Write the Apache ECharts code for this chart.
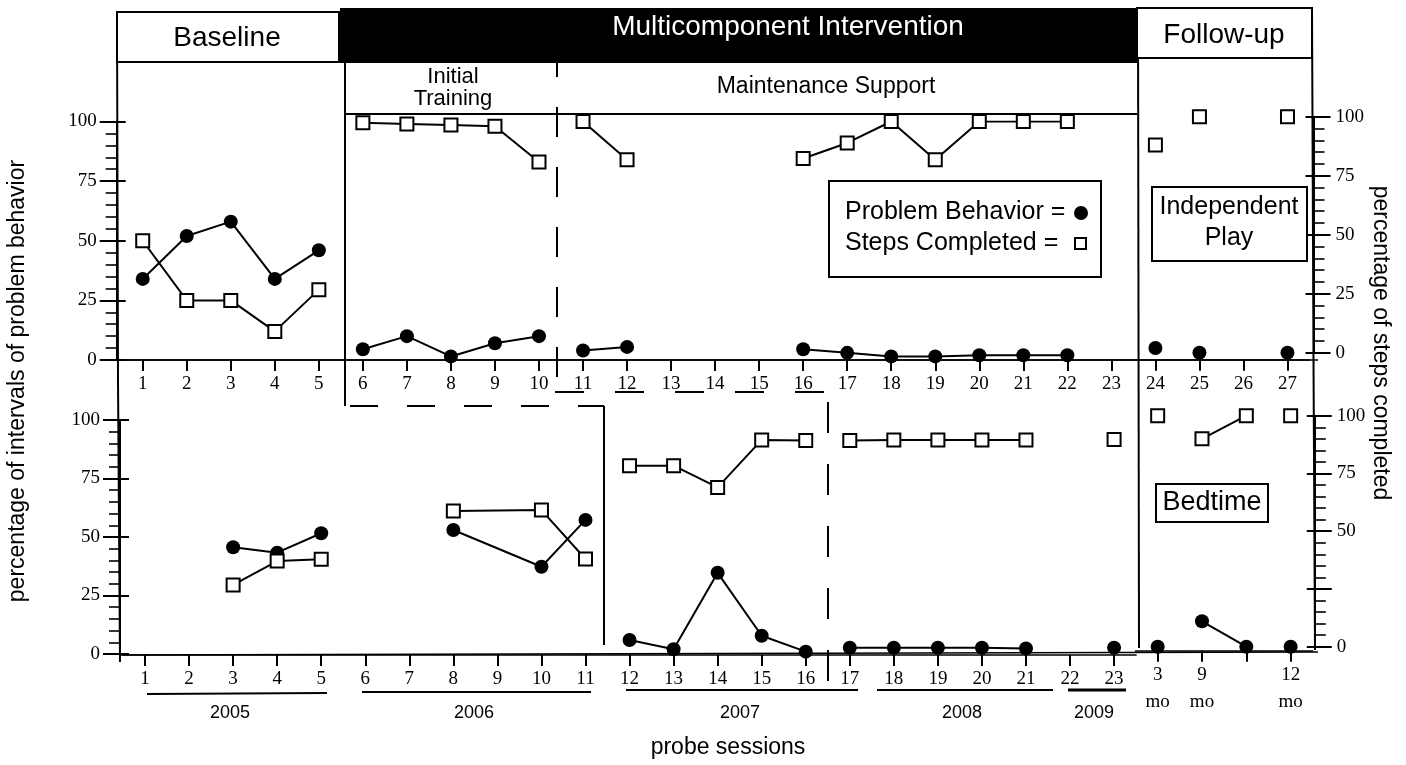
<!DOCTYPE html>
<html>
<head>
<meta charset="utf-8">
<script src="https://cdn.jsdelivr.net/npm/echarts/dist/echarts.min.js"></script>
<style>
  html, body { margin: 0; padding: 0; background: #fff; }
  #chart { width: 1406px; height: 765px; }
</style>
</head>
<body>
<div id="chart"></div>
<script>
// ---------------- DATA ----------------
const mainSessions = ['1','2','3','4','5','6','7','8','9','10','11','12','13','14','15','16','17','18','19','20','21','22','23'];
const followTopLabels = ['24','25','26','27'];
const followBottomLabels = ['3\nmo','9\nmo','','12\nmo'];

// Independent Play (top panel), sessions 1-23
const topProblem = [34, 52, 58, 34, 46, 4.5, 10, 1.5, 7, 10, 4, 5.5, null, null, null, 4.5, 3, 1.5, 1.5, 2, 2, 2, null];
const topSteps   = [50, 25, 25, 12, 29.5, 99.5, 99, 98.5, 98, 83, 100, 84, null, null, null, 84.5, 91, 100, 84, 100, 100, 100, null];
// Independent Play follow-up (24-27)
const topFollowProblem = [2, 0, null, 0];
const topFollowSteps   = [88, 100, null, 100];

// Bedtime (bottom panel), sessions 1-23
const bottomProblem = [null, null, 45.6, 43.3, 51.6, null, null, 53, null, 37.3, 57.3, 6, 2, 34.7, 7.8, 1, 2.7, 2.7, 2.7, 2.7, 2.4, null, 2.7];
const bottomSteps   = [null, null, 29.5, 39.7, 40.5, null, null, 61.1, null, 61.5, 40.6, 80.5, 80.5, 71.2, 91.5, 91.2, 91.2, 91.5, 91.5, 91.5, 91.5, null, 91.7];
// Bedtime follow-up
const bottomFollowProblem = [0, 11, 0, 0];
const bottomFollowSteps   = [100, 90, 100, 100];

// connected runs (1-based positions, inclusive)
const topSegments = [[1,5],[6,10],[11,12],[16,22]];
const bottomSegments = [[1,5],[6,11],[12,16],[17,21],[22,23]];
const followSegments = [[1,1],[2,3],[4,4]];

// ---------------- HELPERS ----------------
const SERIF = '"Liberation Serif", "DejaVu Serif", serif';
const SANS = '"Liberation Sans", Arial, sans-serif';

function segSeries(values, segments, axisIdx, kind) {
  return segments.map(([a, b]) => ({
    type: 'line',
    xAxisIndex: axisIdx[0],
    yAxisIndex: axisIdx[1],
    connectNulls: true,
    showAllSymbol: true,
    data: values.map((v, i) => (i + 1 >= a && i + 1 <= b) ? v : null),
    symbol: kind === 'pb' ? 'circle' : 'rect',
    symbolSize: kind === 'pb' ? 14 : 13,
    itemStyle: kind === 'pb'
      ? { color: '#000', borderColor: '#000', borderWidth: 0 }
      : { color: '#fff', borderColor: '#000', borderWidth: 2 },
    lineStyle: { color: '#000', width: 2 },
    z: kind === 'pb' ? 3 : 4,
    silent: true
  }));
}

function xAx(grid, data, offset) {
  return {
    gridIndex: grid, type: 'category', data: data, boundaryGap: true,
    position: 'bottom', offset: offset,
    axisLine: { show: true, onZero: false, lineStyle: { color: '#000', width: 1.5 } },
    axisTick: { show: true, alignWithLabel: true, interval: 0, length: 11, lineStyle: { color: '#000', width: 2 } },
    axisLabel: { interval: 0, margin: 11, fontFamily: SERIF, fontSize: 19, color: '#000', lineHeight: 27 },
    splitLine: { show: false }
  };
}

function yAx(grid, pos, offset, labelFmt) {
  return {
    gridIndex: grid, type: 'value', min: 0, max: 100, interval: 25, position: pos, offset: offset,
    axisLine: { show: true, lineStyle: { color: '#000', width: 2 } },
    axisTick: { show: true, length: 17, lineStyle: { color: '#000', width: 2 } },
    minorTick: { show: true, splitNumber: 5, length: 11, lineStyle: { color: '#000', width: 1.6 } },
    splitLine: { show: false }, minorSplitLine: { show: false },
    axisLabel: { margin: pos === 'left' ? 20 : 22, fontFamily: SERIF, fontSize: 19, color: '#000',
                 formatter: labelFmt || (v => String(v)) }
  };
}
function yAxInner(grid, pos, offset, len) {
  return {
    gridIndex: grid, type: 'value', min: 0, max: 100, interval: 25, position: pos, offset: offset,
    axisLine: { show: false },
    axisTick: { show: true, inside: true, length: len, lineStyle: { color: '#000', width: 2 } },
    minorTick: { show: false }, splitLine: { show: false },
    axisLabel: { show: false }
  };
}

// ---------------- ANNOTATIONS ----------------
const K = '#000';
function ln(x1, y1, x2, y2, w, dash) {
  const s = { stroke: K, lineWidth: w || 2 };
  if (dash) s.lineDash = dash;
  return { type: 'line', shape: { x1, y1, x2, y2 }, style: s, z: 1, silent: true };
}
function txt(text, x, y, size, opts) {
  opts = opts || {};
  return {
    type: 'text', x: x, y: y, rotation: opts.rot || 0, z: 10, silent: true,
    style: {
      text: text, fill: opts.fill || K,
      font: (opts.weight || 'normal') + ' ' + size + 'px ' + (opts.family || SANS),
      textAlign: opts.align || 'center', align: opts.align || 'center',
      textVerticalAlign: 'middle', verticalAlign: 'middle',
      lineHeight: opts.lh || size * 1.15
    }
  };
}
function box(x, y, w, h, fill, stroke) {
  return { type: 'rect', shape: { x, y, width: w, height: h }, z: 5, silent: true,
           style: { fill: fill, stroke: stroke || null, lineWidth: stroke ? 2 : 0 } };
}

const graphics = [
  // header row
  box(117, 12, 222, 50, '#fff', K),
  box(340, 8, 797, 55, '#000'),
  box(1137, 8, 175, 50, '#fff', K),
  txt('Baseline', 227, 38, 28),
  txt('Multicomponent Intervention', 788, 27, 28, { fill: '#fff' }),
  txt('Follow-up', 1224, 35, 28),
  // second header row
  ln(345, 114, 1137, 114, 2),
  txt('Initial\nTraining', 453, 88, 22, { lh: 22 }),
  txt('Maintenance Support', 826, 87, 23),
  // frame lines
  { type: 'polyline', shape: { points: [[117, 12], [118, 380], [120, 662]] }, style: { stroke: K, lineWidth: 2, fill: null }, z: 1, silent: true },
  ln(1138, 8, 1139, 648, 2),
  { type: 'polyline', shape: { points: [[1312, 8], [1313.5, 360], [1315, 650]] }, style: { stroke: K, lineWidth: 2, fill: null }, z: 1, silent: true },
  ln(117, 360, 1318, 360, 1.5),
  ln(120, 655, 1318, 652, 1.5),
  // phase change: baseline -> intervention
  ln(345, 63, 345, 406, 2),
  ln(350, 406, 604, 406, 2, [28, 29]),
  ln(604, 406, 604, 645, 2),
  // phase change: initial training -> maintenance
  ln(557, 63, 557, 77, 2),
  ln(557, 107, 557, 392, 2, [30, 30]),
  ln(555, 392, 828, 392, 2, [29, 31]),
  ln(828, 402, 828, 682, 2, [31, 31]),
  // legend box
  box(829, 181, 272, 96, '#fff', K),
  txt('Problem Behavior =', 845, 212, 25, { align: 'left' }),
  { type: 'circle', shape: { cx: 1081, cy: 213, r: 7 }, style: { fill: K }, z: 11, silent: true },
  txt('Steps Completed =', 845, 243, 25, { align: 'left' }),
  { type: 'rect', shape: { x: 1075, y: 238, width: 11, height: 11 }, style: { fill: '#fff', stroke: K, lineWidth: 2 }, z: 11, silent: true },
  // panel labels
  box(1152, 187, 155, 74, '#fff', K),
  txt('Independent\nPlay', 1229, 223, 25, { lh: 31 }),
  box(1156, 484, 112, 38, '#fff', K),
  txt('Bedtime', 1212, 503, 27),
  // years
  ln(147, 694, 327, 693, 2.2), txt('2005', 230, 713, 18),
  ln(362, 692, 591, 692, 2.2), txt('2006', 474, 713, 18),
  ln(626, 690, 858, 690, 2.2), txt('2007', 740, 713, 18),
  ln(877, 690, 1053, 690, 2.2), txt('2008', 962, 713, 18),
  ln(1068, 690, 1126, 690, 3), txt('2009', 1094, 713, 18),
  // axis titles
  txt('probe sessions', 728, 748, 23),
  txt('percentage of intervals of problem behavior', 18, 381, 23, { rot: Math.PI / 2 }),
  txt('percentage of steps completed', 1380, 343, 23, { rot: -Math.PI / 2 })
];

// ---------------- OPTION ----------------
const option = {
  animation: false,
  backgroundColor: '#fff',
  grid: [
    { left: 120.7, top: 121.5, width: 1012.7, height: 238.5 },   // top, sessions 1-23
    { left: 1133.4, top: 116.7, width: 176.1, height: 236 },     // top, follow-up
    { left: 123, top: 420, width: 1013.1, height: 234 },         // bottom, sessions 1-23
    { left: 1135.5, top: 415.7, width: 177.3, height: 231 }      // bottom, follow-up
  ],
  xAxis: [
    xAx(0, mainSessions, 0),
    xAx(1, followTopLabels, 7),
    xAx(2, mainSessions, 1),
    xAx(3, followBottomLabels, 4)
  ],
  yAxis: [
    yAx(0, 'left', 4), yAxInner(0, 'left', 4, 9),
    yAx(1, 'right', 4), yAxInner(1, 'right', 4, 8),
    yAx(2, 'left', 3), yAxInner(2, 'left', 3, 9),
    yAx(3, 'right', 2, v => (v === 25 ? '' : String(v))), yAxInner(3, 'right', 2, 8)
  ],
  graphic: { elements: graphics },
  series: [].concat(
    segSeries(topProblem, topSegments, [0, 0], 'pb'),
    segSeries(topSteps, topSegments, [0, 0], 'sc'),
    segSeries(topFollowProblem, followSegments, [1, 2], 'pb'),
    segSeries(topFollowSteps, followSegments, [1, 2], 'sc'),
    segSeries(bottomProblem, bottomSegments, [2, 4], 'pb'),
    segSeries(bottomSteps, bottomSegments, [2, 4], 'sc'),
    segSeries(bottomFollowProblem, followSegments, [3, 6], 'pb'),
    segSeries(bottomFollowSteps, followSegments, [3, 6], 'sc')
  )
};

const chart = echarts.init(document.getElementById('chart'), null, { renderer: 'canvas' });
chart.setOption(option);
</script>
</body>
</html>
